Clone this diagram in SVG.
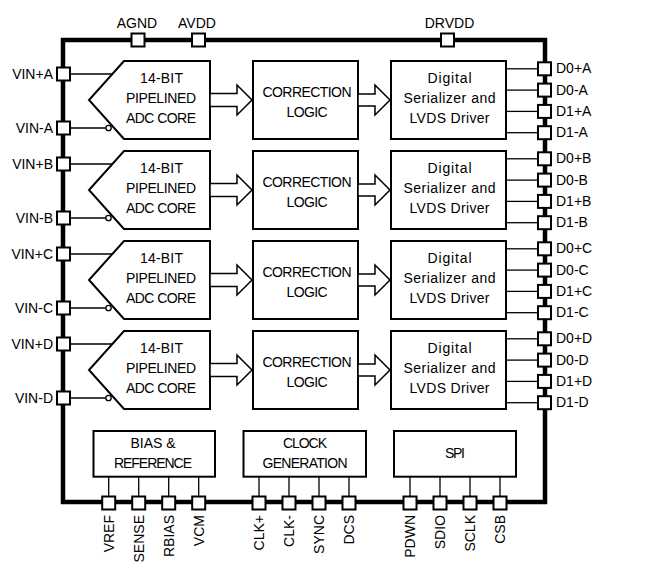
<svg xmlns="http://www.w3.org/2000/svg" width="647" height="565" viewBox="0 0 647 565">
<style>
text{font-family:"Liberation Sans",Arial,sans-serif;font-size:14px;fill:#000}
.c{text-anchor:middle}
.e{text-anchor:end}
.blk{fill:#fff;stroke:#000;stroke-width:2}
.pin{fill:#fff;stroke:#000;stroke-width:2}
.wire{stroke:#000;stroke-width:1.3;fill:none}
.arr{fill:#fff;stroke:#000;stroke-width:1.5}
.bub{fill:#fff;stroke:#000;stroke-width:1.3}
</style>
<defs>
<g id="adcShape"><polygon class="blk" points="124,61 210,61 210,139 124,139 89,100"/>
<text class="c" x="161.5" y="82.7" textLength="43">14-BIT</text>
<text class="c" x="161" y="103.3" textLength="70">PIPELINED</text>
<text class="c" x="161" y="123.3" textLength="70">ADC CORE</text></g>
<g id="corrShape"><rect class="blk" x="253" y="61" width="105" height="78"/>
<text class="c" x="307" y="96.7" textLength="89">CORRECTION</text>
<text class="c" x="307" y="117.3" textLength="41">LOGIC</text></g>
<g id="serShape"><rect class="blk" x="391" y="61" width="115" height="78"/>
<text class="c" x="449.5" y="83.3" textLength="44">Digital</text>
<text class="c" x="449.5" y="103.3" textLength="92">Serializer and</text>
<text class="c" x="449.5" y="123.3" textLength="80">LVDS Driver</text></g>
<g id="chWires">
<line class="wire" x1="70" y1="74" x2="112.5" y2="74"/>
<line class="wire" x1="70" y1="128" x2="105.8" y2="128"/>
<circle class="bub" cx="108.5" cy="128" r="2.7"/>
<polygon class="arr" points="210,93.5 237,93.5 237,85 252,100 237,115 237,106.5 210,106.5"/>
<polygon class="arr" points="358,94 375,94 375,85 390,100 375,115 375,106 358,106"/>
<line class="wire" x1="506" y1="68.8" x2="538" y2="68.8"/>
<line class="wire" x1="506" y1="90.1" x2="538" y2="90.1"/>
<line class="wire" x1="506" y1="111.4" x2="538" y2="111.4"/>
<line class="wire" x1="506" y1="132.7" x2="538" y2="132.7"/>
</g>
</defs>

<g id="chip"><rect x="63" y="40" width="482" height="462" fill="none" stroke="#000" stroke-width="4.5"/></g>

<g id="adc-a"><use href="#adcShape"/></g>
<g id="adc-b" transform="translate(0,90)"><use href="#adcShape"/></g>
<g id="adc-c" transform="translate(0,180)"><use href="#adcShape"/></g>
<g id="adc-d" transform="translate(0,270)"><use href="#adcShape"/></g>
<g id="corr-a"><use href="#corrShape"/></g>
<g id="corr-b" transform="translate(0,90)"><use href="#corrShape"/></g>
<g id="corr-c" transform="translate(0,180)"><use href="#corrShape"/></g>
<g id="corr-d" transform="translate(0,270)"><use href="#corrShape"/></g>
<g id="ser-a"><use href="#serShape"/></g>
<g id="ser-b" transform="translate(0,90)"><use href="#serShape"/></g>
<g id="ser-c" transform="translate(0,180)"><use href="#serShape"/></g>
<g id="ser-d" transform="translate(0,270)"><use href="#serShape"/></g>

<g id="bias"><rect class="blk" x="93.5" y="431" width="121.5" height="45.7"/>
<text class="c" x="153" y="447.7" textLength="45">BIAS &amp;</text>
<text class="c" x="153" y="468.3" textLength="78">REFERENCE</text></g>
<g id="clock"><rect class="blk" x="243.5" y="431" width="122.5" height="45.7"/>
<text class="c" x="305" y="447.7" textLength="44">CLOCK</text>
<text class="c" x="305" y="468.3" textLength="85">GENERATION</text></g>
<g id="spi"><rect class="blk" x="394" y="431" width="122" height="45.7"/>
<text class="c" x="455" y="457.7" textLength="20">SPI</text></g>

<g id="connectors">
<use href="#chWires"/>
<use href="#chWires" transform="translate(0,90)"/>
<use href="#chWires" transform="translate(0,180)"/>
<use href="#chWires" transform="translate(0,270)"/>
<line class="wire" x1="108.7" y1="476.7" x2="108.7" y2="497"/>
<line class="wire" x1="138.7" y1="476.7" x2="138.7" y2="497"/>
<line class="wire" x1="168.7" y1="476.7" x2="168.7" y2="497"/>
<line class="wire" x1="198.7" y1="476.7" x2="198.7" y2="497"/>
<line class="wire" x1="259" y1="476.7" x2="259" y2="497"/>
<line class="wire" x1="289" y1="476.7" x2="289" y2="497"/>
<line class="wire" x1="319" y1="476.7" x2="319" y2="497"/>
<line class="wire" x1="349" y1="476.7" x2="349" y2="497"/>
<line class="wire" x1="410" y1="476.7" x2="410" y2="497"/>
<line class="wire" x1="440" y1="476.7" x2="440" y2="497"/>
<line class="wire" x1="470" y1="476.7" x2="470" y2="497"/>
<line class="wire" x1="500" y1="476.7" x2="500" y2="497"/>
</g>

<g id="pins-top">
<rect class="pin" x="131.5" y="33.5" width="13" height="13"/><text class="c" x="137" y="28.3">AGND</text>
<rect class="pin" x="192" y="33.5" width="13" height="13"/><text class="c" x="197" y="28.3">AVDD</text>
<rect class="pin" x="441" y="33.5" width="13" height="13"/><text class="c" x="449.5" y="28.3">DRVDD</text>
</g>

<g id="pins-left">
<rect class="pin" x="57" y="67.5" width="13" height="13"/><text class="e" x="53" y="79">VIN+A</text>
<rect class="pin" x="57" y="121.5" width="13" height="13"/><text class="e" x="53" y="133">VIN-A</text>
<rect class="pin" x="57" y="157.5" width="13" height="13"/><text class="e" x="53" y="169">VIN+B</text>
<rect class="pin" x="57" y="211.5" width="13" height="13"/><text class="e" x="53" y="223">VIN-B</text>
<rect class="pin" x="57" y="247.5" width="13" height="13"/><text class="e" x="53" y="259">VIN+C</text>
<rect class="pin" x="57" y="301.5" width="13" height="13"/><text class="e" x="53" y="313">VIN-C</text>
<rect class="pin" x="57" y="337.5" width="13" height="13"/><text class="e" x="53" y="349">VIN+D</text>
<rect class="pin" x="57" y="391.5" width="13" height="13"/><text class="e" x="53" y="403">VIN-D</text>
</g>

<g id="pins-right">
<rect class="pin" x="538" y="62.3" width="13" height="13"/><text x="556" y="73.3">D0+A</text>
<rect class="pin" x="538" y="83.6" width="13" height="13"/><text x="556" y="94.6">D0-A</text>
<rect class="pin" x="538" y="104.9" width="13" height="13"/><text x="556" y="115.9">D1+A</text>
<rect class="pin" x="538" y="126.2" width="13" height="13"/><text x="556" y="137.2">D1-A</text>
<rect class="pin" x="538" y="152.3" width="13" height="13"/><text x="556" y="163.3">D0+B</text>
<rect class="pin" x="538" y="173.6" width="13" height="13"/><text x="556" y="184.6">D0-B</text>
<rect class="pin" x="538" y="194.9" width="13" height="13"/><text x="556" y="205.9">D1+B</text>
<rect class="pin" x="538" y="216.2" width="13" height="13"/><text x="556" y="227.2">D1-B</text>
<rect class="pin" x="538" y="242.3" width="13" height="13"/><text x="556" y="253.3">D0+C</text>
<rect class="pin" x="538" y="263.6" width="13" height="13"/><text x="556" y="274.6">D0-C</text>
<rect class="pin" x="538" y="284.9" width="13" height="13"/><text x="556" y="295.9">D1+C</text>
<rect class="pin" x="538" y="306.2" width="13" height="13"/><text x="556" y="317.2">D1-C</text>
<rect class="pin" x="538" y="332.3" width="13" height="13"/><text x="556" y="343.3">D0+D</text>
<rect class="pin" x="538" y="353.6" width="13" height="13"/><text x="556" y="364.6">D0-D</text>
<rect class="pin" x="538" y="374.9" width="13" height="13"/><text x="556" y="385.9">D1+D</text>
<rect class="pin" x="538" y="396.2" width="13" height="13"/><text x="556" y="407.2">D1-D</text>
</g>

<g id="pins-bottom">
<rect class="pin" x="102.2" y="496.5" width="13" height="13"/><text class="e" transform="translate(113.7,515) rotate(-90)">VREF</text>
<rect class="pin" x="132.2" y="496.5" width="13" height="13"/><text class="e" transform="translate(143.7,515) rotate(-90)">SENSE</text>
<rect class="pin" x="162.2" y="496.5" width="13" height="13"/><text class="e" transform="translate(173.7,515) rotate(-90)">RBIAS</text>
<rect class="pin" x="192.2" y="496.5" width="13" height="13"/><text class="e" transform="translate(203.7,515) rotate(-90)">VCM</text>
<rect class="pin" x="252.5" y="496.5" width="13" height="13"/><text class="e" transform="translate(264,515) rotate(-90)">CLK+</text>
<rect class="pin" x="282.5" y="496.5" width="13" height="13"/><text class="e" transform="translate(294,515) rotate(-90)">CLK-</text>
<rect class="pin" x="312.5" y="496.5" width="13" height="13"/><text class="e" transform="translate(324,515) rotate(-90)">SYNC</text>
<rect class="pin" x="342.5" y="496.5" width="13" height="13"/><text class="e" transform="translate(354,515) rotate(-90)">DCS</text>
<rect class="pin" x="403.5" y="496.5" width="13" height="13"/><text class="e" transform="translate(415,515) rotate(-90)">PDWN</text>
<rect class="pin" x="433.5" y="496.5" width="13" height="13"/><text class="e" transform="translate(445,515) rotate(-90)">SDIO</text>
<rect class="pin" x="463.5" y="496.5" width="13" height="13"/><text class="e" transform="translate(475,515) rotate(-90)">SCLK</text>
<rect class="pin" x="493.5" y="496.5" width="13" height="13"/><text class="e" transform="translate(505,515) rotate(-90)">CSB</text>
</g>
</svg>
